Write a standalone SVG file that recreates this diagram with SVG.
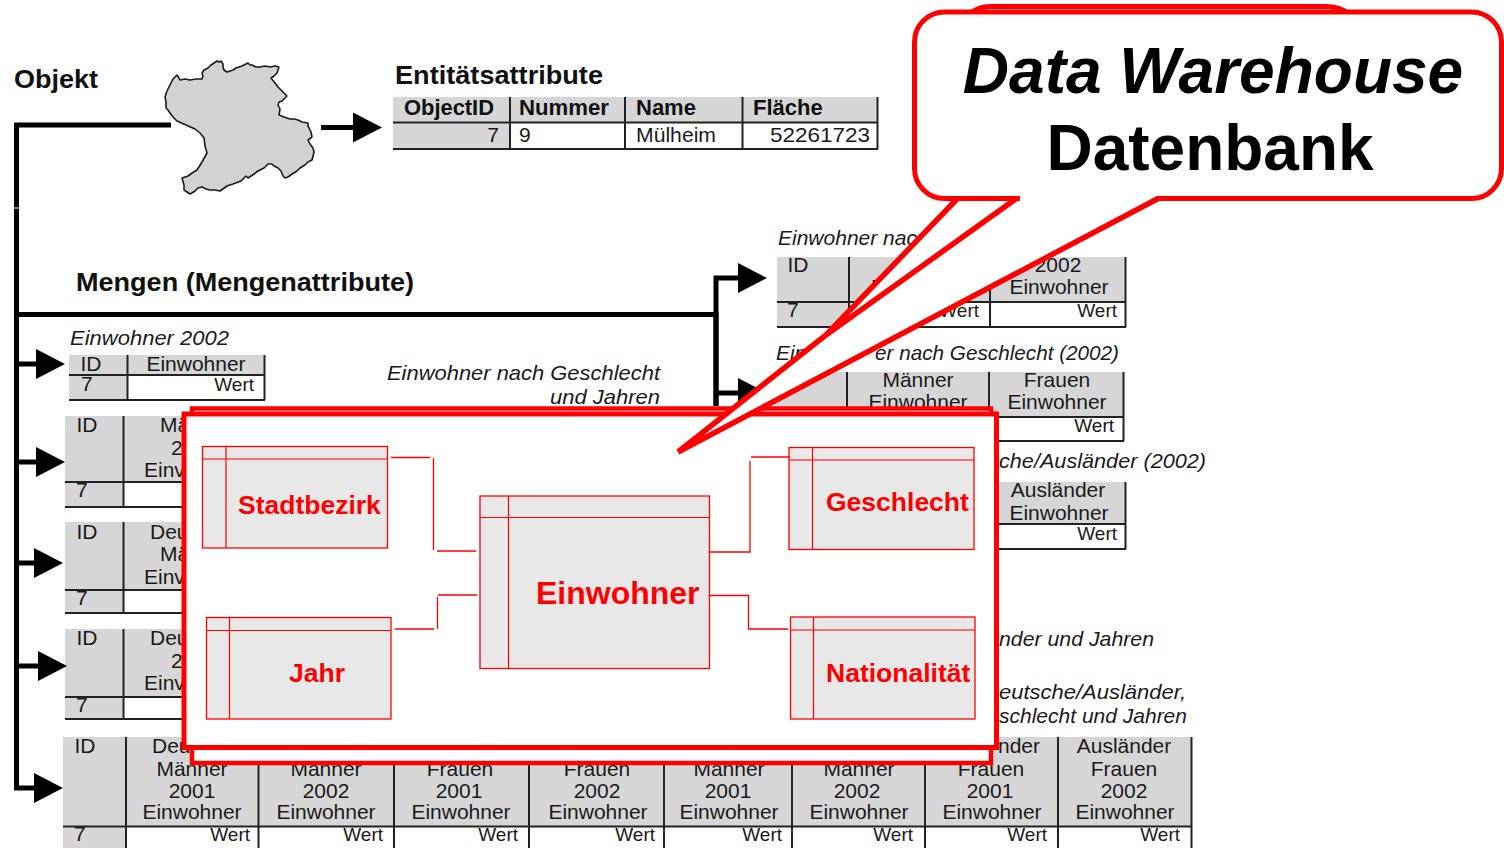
<svg xmlns="http://www.w3.org/2000/svg" width="1504" height="848" viewBox="0 0 1504 848">
<style>
text{font-family:"Liberation Sans",Arial,sans-serif;fill:#1a1a1a}
.t{font-size:25px;font-weight:bold;fill:#111}
.hb{font-size:22px;font-weight:bold;fill:#111}
.c{font-size:21px}
.m{text-anchor:middle}
.r{text-anchor:end}
.w{font-size:19px;text-anchor:end}
.i{font-size:21px;font-style:italic}
.hdr{fill:#d6d6d6}
.row{fill:#fff}
.grid{fill:none;stroke:#222;stroke-width:2}
.wire{fill:none;stroke:#000;stroke-width:5}
.ent{fill:#e8e8e8;stroke:#f00;stroke-width:1.3}
.entl{fill:none;stroke:#f00;stroke-width:1.2}
.lnk{fill:none;stroke:#f00;stroke-width:1.3}
.en{font-size:26.5px;font-weight:bold;fill:#f00}
.box{fill:#fff;stroke:#f00;stroke-width:5}
.bt{font-size:64px;font-weight:bold;fill:#000;text-anchor:middle}
</style>
<defs>
<marker id="ah" markerUnits="userSpaceOnUse" markerWidth="30" markerHeight="30" viewBox="0 0 30 30" refX="0" refY="15" orient="auto"><polygon points="0,0 29,15 0,30" fill="#000"/></marker>
</defs>
<rect width="1504" height="848" fill="#fff"/>

<g id="label-objekt"><text class="t" x="14" y="88" textLength="84" lengthAdjust="spacingAndGlyphs">Objekt</text></g>
<g id="label-mengen"><text class="t" x="76" y="291" textLength="338" lengthAdjust="spacingAndGlyphs">Mengen (Mengenattribute)</text></g>

<g id="objekt-karte">
<polygon fill="#d2d2d2" stroke="#1a1a1a" stroke-width="1.6" stroke-linejoin="bevel" points="177,75 179,78 180,80 185,79 190,80 196,79 202,79 203,76 202,73 204,70 208,68 211,65 214,63 217,61 219,62 221,61 223,64 223,67 224,70 227,72 230,71 233,70 236,68 242,66 248,63 250,65 252,65 256,67 260,67 265,66 270,67 275,66 279,67 278,70 277,73 274,76 271,78 275,83 278,87 282,91 287,96 284,99 282,101 279,102 278,105 280,109 279,115 284,117 290,119 294,119 298,120 302,122 308,123 308,126 309,128 311,132 312,137 308,140 310,144 313,148 314,152 313,156 312,160 308,162 305,165 300,168 297,171 292,174 288,177 285,178 283,176 281,171 278,168 274,166 272,164 268,164 264,168 258,171 254,174 248,178 246,176 241,181 233,184 227,186 220,191 215,190 210,190 206,189 202,187 198,188 195,191 192,193 190,194 187,192 184,190 184,185 182,178 185,177 188,176 192,173 197,170 202,162 207,153 205,146 204,138 200,133 195,129 186,125 177,121 173,117 170,113 168,110 166,108 166,102 165,97 167,91 170,85 173,79"/>
</g>

<g id="tabelle-entitaet">
<text class="t" x="395" y="84" textLength="208" lengthAdjust="spacingAndGlyphs">Entitätsattribute</text>
<rect class="hdr" x="393" y="97" width="485" height="25"/>
<rect class="hdr" x="393" y="122" width="117" height="27"/>
<rect class="row" x="510" y="122" width="368" height="27"/>
<path class="grid" d="M393,122.500H878M393,149H878M510,97V149M625,97V149M742.500,97V149M877.500,97V149"/>
<text class="hb" x="404" y="115" textLength="90" lengthAdjust="spacingAndGlyphs">ObjectID</text>
<text class="hb" x="519" y="115" textLength="90" lengthAdjust="spacingAndGlyphs">Nummer</text>
<text class="hb" x="636" y="115">Name</text>
<text class="hb" x="753" y="115">Fläche</text>
<text class="c r" x="499" y="142">7</text>
<text class="c" x="519" y="142">9</text>
<text class="c" x="636" y="142" textLength="80" lengthAdjust="spacingAndGlyphs">Mülheim</text>
<text class="c r" x="870" y="142" textLength="100" lengthAdjust="spacingAndGlyphs">52261723</text>
</g>

<g id="tabelle-einwohner-2002">
<text class="i" x="70" y="345" textLength="159" lengthAdjust="spacingAndGlyphs">Einwohner 2002</text>
<rect class="hdr" x="69" y="355" width="196" height="20"/>
<rect class="hdr" x="69" y="375" width="58" height="25"/>
<rect class="row" x="127" y="375" width="138" height="25"/>
<path class="grid" d="M69,375H265M69,400H265M127.500,355V400M264.500,355V400"/>
<text class="c m" x="91" y="371">ID</text>
<text class="c m" x="196" y="371">Einwohner</text>
<text class="c" x="81" y="391">7</text>
<text class="w" x="254" y="391">Wert</text>
</g>

<g id="tabelle-geschlecht-jahre">
<rect class="hdr" x="65" y="416" width="130" height="66"/>
<rect class="hdr" x="65" y="482" width="58" height="25"/>
<rect class="row" x="123" y="482" width="72" height="25"/>
<path class="grid" d="M65,482H195M65,507H195M123.500,416V507"/>
<text class="c m" x="87" y="432">ID</text>
<text class="c" x="160" y="432">Mä</text>
<text class="c" x="171" y="455">2</text>
<text class="c" x="144" y="477">Einv</text>
<text class="c" x="76" y="497">7</text>
</g>

<g id="tabelle-nationalitaet-geschlecht">
<rect class="hdr" x="65" y="522" width="130" height="68"/>
<rect class="hdr" x="65" y="590" width="58" height="23"/>
<rect class="row" x="123" y="590" width="72" height="23"/>
<path class="grid" d="M65,590H195M65,613H195M123.500,522V613"/>
<text class="c m" x="87" y="539">ID</text>
<text class="c" x="150" y="539">Deu</text>
<text class="c" x="160" y="561">Mä</text>
<text class="c" x="144" y="584">Einv</text>
<text class="c" x="76" y="605">7</text>
</g>

<g id="tabelle-nationalitaet-jahre">
<rect class="hdr" x="65" y="629" width="130" height="68"/>
<rect class="hdr" x="65" y="697" width="58" height="22"/>
<rect class="row" x="123" y="697" width="72" height="22"/>
<path class="grid" d="M65,697H195M65,719H195M123.500,629V719"/>
<text class="c m" x="87" y="645">ID</text>
<text class="c" x="150" y="645">Deu</text>
<text class="c" x="171" y="668">2</text>
<text class="c" x="144" y="690">Einv</text>
<text class="c" x="76" y="712">7</text>
</g>

<g id="tabelle-alle-merkmale">
<rect class="hdr" x="63" y="737" width="1129" height="89"/>
<rect class="hdr" x="63" y="826" width="63" height="22"/>
<rect class="row" x="126" y="826" width="1066" height="22"/>
<path class="grid" d="M63,826.500H1192M126,737V848M258.500,737V848M394,737V848M529,737V848M664,737V848M792,737V848M925,737V848M1058,737V848M1191.500,737V848"/>
<text class="c m" x="85" y="753">ID</text>
<text class="c" x="152" y="753">Deu</text>
<text class="c m" x="192" y="776">Männer</text><text class="c m" x="192" y="798">2001</text><text class="c m" x="192" y="819">Einwohner</text>
<text class="c m" x="326" y="776">Männer</text><text class="c m" x="326" y="798">2002</text><text class="c m" x="326" y="819">Einwohner</text>
<text class="c m" x="460" y="776">Frauen</text><text class="c m" x="459" y="798">2001</text><text class="c m" x="461" y="819">Einwohner</text>
<text class="c m" x="597" y="776">Frauen</text><text class="c m" x="597" y="798">2002</text><text class="c m" x="598" y="819">Einwohner</text>
<text class="c m" x="729" y="776">Männer</text><text class="c m" x="728" y="798">2001</text><text class="c m" x="729" y="819">Einwohner</text>
<text class="c m" x="859" y="776">Männer</text><text class="c m" x="857" y="798">2002</text><text class="c m" x="859" y="819">Einwohner</text>
<text class="c" x="998" y="753">nder</text>
<text class="c m" x="991" y="776">Frauen</text><text class="c m" x="990" y="798">2001</text><text class="c m" x="992" y="819">Einwohner</text>
<text class="c m" x="1124" y="753">Ausländer</text>
<text class="c m" x="1124" y="776">Frauen</text><text class="c m" x="1124" y="798">2002</text><text class="c m" x="1125" y="819">Einwohner</text>
<text class="c" x="74" y="841">7</text>
<text class="w" x="250" y="841">Wert</text><text class="w" x="383" y="841">Wert</text><text class="w" x="518" y="841">Wert</text><text class="w" x="655" y="841">Wert</text><text class="w" x="782" y="841">Wert</text><text class="w" x="913" y="841">Wert</text><text class="w" x="1047" y="841">Wert</text><text class="w" x="1180" y="841">Wert</text>
</g>

<g id="label-geschlecht-jahre">
<text class="i r" x="660" y="380" textLength="273" lengthAdjust="spacingAndGlyphs">Einwohner nach Geschlecht</text>
<text class="i r" x="660" y="404" textLength="110" lengthAdjust="spacingAndGlyphs">und Jahren</text>
</g>

<g id="tabelle-jahre">
<text class="i" x="778" y="245">Einwohner nac</text>
<rect class="hdr" x="777" y="257" width="349" height="45"/>
<rect class="hdr" x="777" y="302" width="72" height="25"/>
<rect class="row" x="849" y="302" width="277" height="25"/>
<path class="grid" d="M777,302H1126M777,327H1126M849,257V327M990,257V327M1125.500,257V327"/>
<text class="c m" x="798" y="272">ID</text>
<text class="c" x="871" y="294">E</text>
<text class="c m" x="1058" y="272">2002</text>
<text class="c m" x="1059" y="294">Einwohner</text>
<text class="c" x="787" y="317">7</text>
<text class="w" x="979" y="317">Wert</text>
<text class="w" x="1117" y="317">Wert</text>
</g>

<g id="tabelle-geschlecht">
<text class="i" x="776" y="360">Ein</text>
<text class="i r" x="1119" y="360" textLength="244" lengthAdjust="spacingAndGlyphs">er nach Geschlecht (2002)</text>
<rect class="hdr" x="775" y="372" width="349" height="45"/>
<rect class="row" x="847" y="417" width="277" height="24"/>
<path class="grid" d="M775,417H1124M847,441H1124M847,372V441M989,372V441M1123.500,372V441"/>
<text class="c m" x="918" y="387">Männer</text>
<text class="c m" x="918" y="409">Einwohner</text>
<text class="c m" x="1057" y="387">Frauen</text>
<text class="c m" x="1057" y="409">Einwohner</text>
<text class="w" x="1114" y="432">Wert</text>
</g>

<g id="tabelle-nationalitaet">
<text class="i" x="999" y="468" textLength="207" lengthAdjust="spacingAndGlyphs">che/Ausländer (2002)</text>
<rect class="hdr" x="980" y="482" width="146" height="42"/>
<path class="grid" d="M980,524H1126M980,549H1126M1125.500,482V549"/>
<text class="c m" x="1058" y="497">Ausländer</text>
<text class="c m" x="1059" y="520">Einwohner</text>
<text class="w" x="1117" y="540">Wert</text>
</g>

<g id="label-nationalitaet-jahre"><text class="i" x="999" y="646" textLength="155" lengthAdjust="spacingAndGlyphs">nder und Jahren</text></g>
<g id="label-alle-merkmale">
<text class="i" x="999" y="699" textLength="187" lengthAdjust="spacingAndGlyphs">eutsche/Ausländer,</text>
<text class="i" x="999" y="723" textLength="188" lengthAdjust="spacingAndGlyphs">schlecht und Jahren</text>
</g>

<g id="connectors-objekt">
<path class="wire" stroke-width="6" d="M171,125H16.500V207.500"/>
<path class="wire" d="M16.500,208.500V788H34" marker-end="url(#ah)"/>
<path class="wire" d="M16.500,314.500H716V406"/>
<path class="wire" d="M716,406V278H738" marker-end="url(#ah)"/>
<path class="wire" d="M716,393H738" marker-end="url(#ah)"/>
<path class="wire" d="M16.500,364H36" marker-end="url(#ah)"/>
<path class="wire" d="M16.500,462H36" marker-end="url(#ah)"/>
<path class="wire" d="M16.500,563H34" marker-end="url(#ah)"/>
<path class="wire" d="M16.500,666H38" marker-end="url(#ah)"/>
<path class="wire" d="M321,127.500H353" marker-end="url(#ah)"/>
</g>

<g id="sternschema-rahmen">
<rect x="192" y="408.500" width="799" height="354.500" fill="#fff" stroke="#f00" stroke-width="4.500"/>
<rect class="box" x="184" y="414" width="812.500" height="333.500"/>
</g>

<g id="dim-stadtbezirk">
<rect class="ent" x="202.500" y="446.500" width="185" height="101.500"/>
<path class="entl" d="M226,446.500V548M202.500,459H387.500"/>
<text class="en" x="238" y="514">Stadtbezirk</text>
</g>
<g id="dim-jahr">
<rect class="ent" x="206.500" y="617.500" width="184.500" height="101.500"/>
<path class="entl" d="M229.500,617.500V719M206.500,630.500H391"/>
<text class="en" x="289" y="682">Jahr</text>
</g>
<g id="fakt-einwohner">
<rect class="ent" x="480" y="496" width="229.500" height="172.500"/>
<path class="entl" d="M508.500,496V668.500M480,517.500H709.500"/>
<text class="en" style="font-size:32px" x="536" y="604">Einwohner</text>
</g>
<g id="dim-geschlecht">
<rect class="ent" x="789" y="447.500" width="185" height="102"/>
<path class="entl" d="M812.500,447.500V549.500M789,460H974"/>
<text class="en" x="826" y="511">Geschlecht</text>
</g>
<g id="dim-nationalitaet">
<rect class="ent" x="790.500" y="617" width="184.500" height="102"/>
<path class="entl" d="M813.500,617V719M790.500,630H975"/>
<text class="en" x="826" y="682">Nationalität</text>
</g>

<g id="connectors-schema">
<path class="lnk" d="M391,457.500H430M433.500,458V550M437,551H476"/>
<path class="lnk" d="M395,629H434M437.500,597V629M438,595H477"/>
<path class="lnk" d="M710,552H750V461M751,457H790"/>
<path class="lnk" d="M710,595.500H748.500V629H788"/>
</g>

<g id="callout">
<path d="M970,14Q978,6.500 990,6.500H1326Q1340,6.500 1349,14" fill="none" stroke="#f00" stroke-width="5"/>
<polygon points="957,197 826,335 678,452 1158,197" fill="#fff"/>
<rect x="914.500" y="12" width="587" height="186.500" rx="30" ry="30" fill="#fff" stroke="#f00" stroke-width="5"/>
<rect x="1020" y="190" width="136" height="12" fill="#fff"/>
<path d="M957,199L826,335L678,452M826,335L1017,198M1159,198L678,452" fill="none" stroke="#f00" stroke-width="5.500" stroke-linejoin="miter"/>
<text class="bt" style="font-style:italic" x="1213" y="93">Data Warehouse</text>
<text class="bt" x="1210" y="170">Datenbank</text>
</g>
</svg>
